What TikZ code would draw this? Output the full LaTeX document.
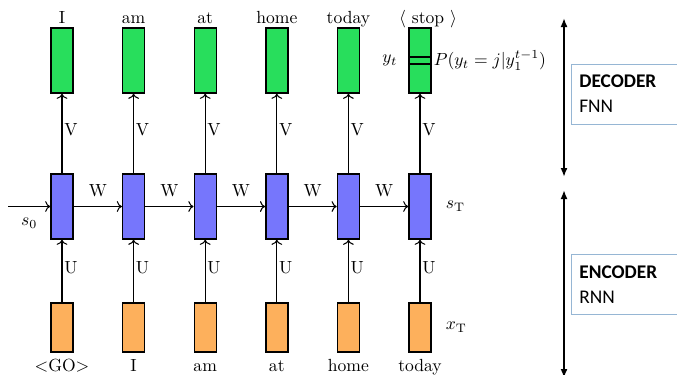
\documentclass[tikz,border=0pt]{standalone}
\usepackage{amsmath,amssymb}
\usepackage{xcolor}
\usepackage{fontspec}
\usepackage{tikz}
\usetikzlibrary{arrows.meta, positioning, calc}
\newfontfamily\tagfont{Carlito}
\definecolor{outGreen}{RGB}{40,222,92}
\definecolor{hidBlue}{RGB}{118,118,252}
\definecolor{inOrange}{RGB}{253,176,92}
\definecolor{tagFrame}{RGB}{150,182,212}

\begin{document}
\begin{tikzpicture}[
    x=0.2mm, y=-0.2mm,
    cell/.style={draw=black, thick, minimum width=4.4mm, inner sep=0pt},
    outcell/.style={cell, fill=outGreen, minimum height=13mm},
    hidcell/.style={cell, fill=hidBlue, minimum height=13mm},
    incell/.style={cell, fill=inOrange, minimum height=9.8mm},
    word/.style={inner sep=1pt, text height=1.6ex, text depth=.25ex},
    wire/.style={->, semithick},
    wlab/.style={inner sep=1pt},
    tag/.style={draw=tagFrame, fill=white, align=left, text width=20mm,
                inner xsep=1.6mm, minimum height=12mm, anchor=west,
                font=\tagfont\fontsize{11}{14.2}\selectfont},
    span/.style={{Latex[length=1.8mm,width=1.4mm]}-{Latex[length=1.8mm,width=1.4mm]},
                 line width=1pt}
]
\clip (0,0) rectangle (677,374);

% OUTPUT --- decoder words
\node[outcell] (G1) at (62,60.5) {};
\node[outcell] (G2) at (133.6,60.5) {};
\node[outcell] (G3) at (205.2,60.5) {};
\node[outcell] (G4) at (276.8,60.5) {};
\node[outcell] (G5) at (348.4,60.5) {};
\node[outcell] (G6) at (420,60.5) {};

% HIDDEN --- recurrent states
\node[hidcell] (H1) at (62,206.5) {};
\node[hidcell] (H2) at (133.6,206.5) {};
\node[hidcell] (H3) at (205.2,206.5) {};
\node[hidcell] (H4) at (276.8,206.5) {};
\node[hidcell] (H5) at (348.4,206.5) {};
\node[hidcell] (H6) at (420,206.5) {};

% INPUT --- encoder words
\node[incell] (X1) at (62,327.5) {};
\node[incell] (X2) at (133.6,327.5) {};
\node[incell] (X3) at (205.2,327.5) {};
\node[incell] (X4) at (276.8,327.5) {};
\node[incell] (X5) at (348.4,327.5) {};
\node[incell] (X6) at (420,327.5) {};

% word labels
\node[word, above=0pt of G1] (t1) {I};
\node[word, above=0pt of G2] (t2) {am};
\node[word, above=0pt of G3] (t3) {at};
\node[word, above=0pt of G4] (t4) {home};
\node[word, above=0pt of G5] (t5) {today};
\node[word, above=0pt of G6, xshift=1.6mm] (t6) {$\langle$ stop $\rangle$};

\node[word, below=1mm of X1] (b1) {$<$GO$>$};
\node[word, below=1mm of X2] (b2) {I};
\node[word, below=1mm of X3] (b3) {am};
\node[word, below=1mm of X4] (b4) {at};
\node[word, below=1mm of X5] (b5) {home};
\node[word, below=1mm of X6] (b6) {today};

% V and U connectors
\foreach \i in {1,...,6} {
  \draw[wire] (H\i.north) -- node[wlab, pos=0.55, anchor=west] {V} (G\i.south);
  \draw[wire] (X\i.north) -- node[wlab, pos=0.55, anchor=west] {U} (H\i.south);
}

% W connectors
\coordinate (s0in) at (8,206.5);
\draw[wire] (s0in) -- node[below=1mm] {$s_0$} (H1.west);
\draw[wire] (H1.east) -- node[wlab, above=1.5mm] {W} (H2.west);
\draw[wire] (H2.east) -- node[wlab, above=1.5mm] {W} (H3.west);
\draw[wire] (H3.east) -- node[wlab, above=1.5mm] {W} (H4.west);
\draw[wire] (H4.east) -- node[wlab, above=1.5mm] {W} (H5.west);
\draw[wire] (H5.east) -- node[wlab, above=1.5mm] {W} (H6.west);

\node[right=1.6mm of H6] (sT) {$s_{\mathrm{T}}$};
\node[right=1.6mm of X6] (xT) {$x_{\mathrm{T}}$};

% softmax slice in the last output
\draw[thick] ($(G6.west)+(0,-3.5)$) -- ($(G6.east)+(0,-3.5)$);
\draw[thick] ($(G6.west)+(0,3.5)$) -- ($(G6.east)+(0,3.5)$);
\node[inner sep=1pt, left=1.8mm of G6] (yt) {$y_t$};
\node[inner sep=1pt, right=0pt of G6] (py) {$P(y_t = j|y_1^{t-1})$};

% RIGHT --- encoder / decoder spans
\coordinate (decTop) at (564,18);
\coordinate (decBot) at (564,177);
\coordinate (encTop) at (564,190);
\coordinate (encBot) at (564,378);
\draw[span] (decTop) -- (decBot);
\draw[span] (encTop) -- (encBot);

\node[tag] (dec) at (571,94) {\textbf{DECODER}\\FNN};
\node[tag] (enc) at (571,284.5) {\textbf{ENCODER}\\RNN};

\end{tikzpicture}
\end{document}
